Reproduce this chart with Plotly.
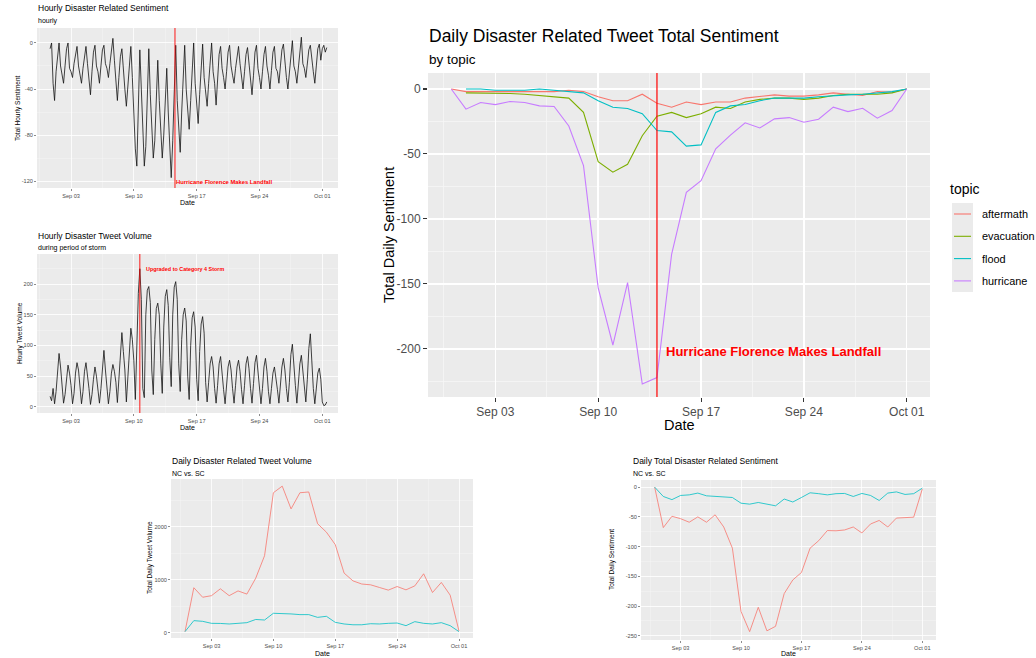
import pandas as pd
import plotly.graph_objects as go

W, H = 1036, 658
FONT = "Liberation Sans, Arial, sans-serif"

# ---------------- data ----------------
daily_dates = pd.date_range("2018-08-31", "2018-10-01", freq="D")

topic_aftermath = [0, -2, -2, -2, -2, -2, -1.5, -2, -1, -2, -6, -9, -9, -4, -11, -14,
                   -10, -12, -10, -10, -7, -6, -4.5, -5.5, -5.5, -4.5, -3, -4, -5, -2, -2.5, 0]
topic_evacuation = [None, -3, -3, -3, -3.5, -4, -5, -6.5, -7, -18, -56, -64, -58, -36, -21, -18,
                    -22, -19, -14, -15, -10, -8, -7, -7, -8, -7, -5, -4, -4, -4, -3, 0]
topic_flood = [None, 0, 0, -1, -1, -1, 0, -1, -2, -3, -9, -14, -15, -19, -32, -33,
               -44, -43, -18, -13, -12, -9, -7, -7, -7, -6, -5, -4.5, -4, -3, -2, 0]
topic_hurricane = [0, -15.5, -10.4, -12, -9.6, -10.4, -13, -13.5, -28.5, -59, -153, -197, -149, -227, -222, -127,
                   -79.5, -70.5, -46, -35.5, -26, -30, -23, -22, -25.6, -23.3, -14, -17.4, -14.8, -22.5, -16.6, 0]
topics = ["aftermath", "evacuation", "flood", "hurricane"]
topic_values = [topic_aftermath, topic_evacuation, topic_flood, topic_hurricane]
topic_colors = ["#F8766D", "#7CAE00", "#00BFC4", "#C77CFF"]

nc_volume = [20, 850, 670, 700, 830, 700, 790, 730, 1030, 1455, 2645, 2770, 2340, 2645, 2660, 2060,
             1900, 1665, 1127, 980, 920, 905, 855, 805, 873, 810, 885, 1114, 760, 950, 710, 30]
sc_volume = [20, 228, 215, 177, 175, 165, 177, 190, 250, 240, 367, 367, 355, 342, 342, 290,
             310, 196, 165, 150, 150, 170, 165, 177, 183, 133, 209, 177, 165, 190, 133, 20]
nc_sentiment = [0, -68, -49, -53, -59, -50, -59, -46.5, -67, -102.6, -209, -243, -202, -241.6, -234, -179,
                -156, -143.5, -102.6, -90, -73, -73.4, -72, -67, -77, -62, -56, -67, -52, -51, -50.5, -3]
sc_sentiment = [0, -15.7, -21, -14, -13, -10, -14.6, -15.7, -17.4, -17.4, -27, -28.6, -25.8, -28, -31.4, -20,
                -25, -17.4, -9.5, -11, -13, -11, -10.6, -15.7, -10.6, -14, -22.4, -10, -8, -12.3, -11, -1.7]
state_colors = ["#F8766D", "#00BFC4"]

# hourly series, one reading every 4 hours starting 2018-08-31 16:00
hourly_start = "2018-08-31 16:00"
hourly_volume = [
    17, 10,                         # Aug 31
    30, 5, 25, 60, 87, 65,          # Sep 1
    40, 6, 20, 50, 68, 55,
    35, 5, 22, 55, 72, 60,
    38, 5, 25, 58, 72, 55,
    30, 4, 20, 45, 65, 50,          # Sep 5
    28, 6, 30, 70, 92, 60,
    35, 5, 25, 55, 69, 58,
    40, 7, 45, 95, 121, 90,
    60, 8, 50, 100, 128, 110,
    75, 12, 120, 185, 225, 175,     # Sep 10
    30, 15, 150, 190, 196, 170,
    60, 20, 110, 160, 169, 150,
    70, 22, 130, 180, 191, 165,
    80, 33, 150, 195, 204, 175,
    70, 25, 110, 150, 161, 140,     # Sep 15
    50, 12, 100, 145, 155, 130,
    45, 10, 90, 135, 147, 120,
    40, 8, 40, 70, 82, 65,
    30, 6, 35, 70, 82, 60,
    28, 5, 30, 65, 76, 60,          # Sep 20
    30, 6, 35, 65, 76, 58,
    28, 5, 35, 70, 82, 62,
    30, 6, 38, 72, 84, 60,
    25, 5, 30, 65, 79, 58,
    25, 5, 30, 55, 65, 50,          # Sep 25
    28, 6, 35, 65, 79, 60,
    30, 8, 40, 85, 102, 75,
    35, 6, 35, 70, 84, 62,
    40, 8, 45, 95, 119, 70,
    30, 5, 30, 55, 63, 45,          # Sep 30
    8, 2, 3, 8,                     # Oct 1
]
hourly_sentiment = [
    -5, 0,                          # Aug 31
    -35, -50, -25, -10, 0, -20,     # Sep 1
    -30, -35, -20, -5, 0, -22,
    -25, -30, -18, -8, -3, -20,
    -28, -35, -22, -10, -3, -18,
    -30, -45, -25, -8, -2, -20,     # Sep 5
    -25, -35, -20, -6, -2, -18,
    -22, -30, -18, -5, 4, -15,
    -35, -50, -30, -12, -5, -25,
    -40, -55, -35, -15, -3, -30,
    -70, -92, -107, -60, -6, -40,   # Sep 10
    -80, -107, -90, -50, -5, -45,
    -75, -100, -85, -45, -15, -50,
    -80, -100, -80, -50, -22, -60,
    -90, -117, -85, -40, -2, -50,
    -70, -95, -60, -25, -2, -40,    # Sep 15
    -55, -75, -50, -20, 0, -35,
    -50, -70, -45, -18, -1, -30,
    -40, -55, -35, -12, 0, -25,
    -35, -54, -30, -10, -3, -22,
    -30, -40, -25, -8, -2, -20,     # Sep 20
    -28, -35, -22, -10, -3, -18,
    -30, -40, -25, -10, -4, -20,
    -32, -45, -28, -8, -2, -22,
    -30, -40, -25, -10, -3, -20,
    -28, -40, -24, -8, -3, -22,     # Sep 25
    -25, -35, -20, -6, -1, -18,
    -30, -40, -25, -6, 2, -20,
    -25, -35, -20, -4, 5, -18,
    -22, -30, -18, -6, -2, -16,
    -25, -35, -20, -5, -1, -15,     # Sep 30
    -5, -2, -8, -4,                 # Oct 1
]
hourly_vol_times = pd.date_range(hourly_start, periods=len(hourly_volume), freq="4h")
hourly_sent_times = pd.date_range(hourly_start, periods=len(hourly_sentiment), freq="4h")

landfall_day = "2018-09-14"
landfall_hour = "2018-09-14 14:00"
upgrade_hour = "2018-09-10 16:00"

# tick labels
sent_hourly_ticks = [0, -40, -80, -120]
vol_hourly_ticks = [0, 50, 100, 150, 200]
topic_ticks = [0, -50, -100, -150, -200]
daily_vol_ticks = [0, 1000, 2000]
daily_sent_ticks = [0, -50, -100, -150, -200, -250]

# ---------------- layout helpers ----------------
DAY = 86400000


def fx(p):
    return p / W


def fy(p):
    return 1 - p / H


def xcfg(x0, x1, rng, fs, tl, gw, anchor):
    return dict(domain=[fx(x0), fx(x1)], range=rng, type="date", tick0="2018-09-03", dtick=7 * DAY,
                tickformat="%b %d", ticks="outside", ticklen=tl, tickwidth=max(gw * 0.7, 0.5),
                tickcolor="#333333", tickfont=dict(size=fs, color="#4D4D4D", family=FONT),
                showgrid=True, gridcolor="white", gridwidth=gw,
                minor=dict(tick0="2018-08-30 12:00", dtick=3.5 * DAY, showgrid=True,
                           gridcolor="#F7F7F7", gridwidth=gw * 0.5, ticks=""),
                zeroline=False, showline=False, anchor=anchor, automargin=False, fixedrange=True)


def ycfg(y0, y1, rng, ticks, minor_dt, fs, tl, gw, anchor):
    return dict(domain=[fy(y1), fy(y0)], range=rng, tickmode="array", tickvals=ticks,
                ticktext=[str(t) for t in ticks], ticks="outside", ticklen=tl,
                tickwidth=max(gw * 0.7, 0.5), tickcolor="#333333",
                tickfont=dict(size=fs, color="#4D4D4D", family=FONT),
                showgrid=True, gridcolor="white", gridwidth=gw,
                minor=dict(tick0=0, dtick=minor_dt, showgrid=True, gridcolor="#F7F7F7",
                           gridwidth=gw * 0.5, ticks=""),
                zeroline=False, showline=False, anchor=anchor, automargin=False, fixedrange=True)


fig = go.Figure()

# 1: hourly sentiment
fig.add_trace(go.Scatter(x=hourly_sent_times, y=hourly_sentiment, mode="lines",
                         line=dict(color="#111111", width=0.8), xaxis="x", yaxis="y", showlegend=False))
# 2: hourly volume
fig.add_trace(go.Scatter(x=hourly_vol_times, y=hourly_volume, mode="lines",
                         line=dict(color="#111111", width=0.8), xaxis="x2", yaxis="y2", showlegend=False))
# 3: daily by topic
for name, vals, col in zip(topics, topic_values, topic_colors):
    fig.add_trace(go.Scatter(x=daily_dates, y=vals, mode="lines", name=name,
                             line=dict(color=col, width=1.1), xaxis="x3", yaxis="y3", showlegend=False))
# 4: NC vs SC volume
for vals, col in zip([nc_volume, sc_volume], state_colors):
    fig.add_trace(go.Scatter(x=daily_dates, y=vals, mode="lines", line=dict(color=col, width=0.8),
                             xaxis="x4", yaxis="y4", showlegend=False))
# 5: NC vs SC sentiment
for vals, col in zip([nc_sentiment, sc_sentiment], state_colors):
    fig.add_trace(go.Scatter(x=daily_dates, y=vals, mode="lines", line=dict(color=col, width=0.8),
                             xaxis="x5", yaxis="y5", showlegend=False))

hourly_range = ["2018-08-30 05:00", "2018-10-02 18:00"]
daily_range = ["2018-08-29 10:00", "2018-10-02 14:00"]

fig.update_layout(
    width=W, height=H,
    margin=dict(l=0, r=0, t=0, b=0, pad=0, autoexpand=False),
    paper_bgcolor="white", plot_bgcolor="#EBEBEB",
    font=dict(family=FONT, color="black"),
    showlegend=False,
    xaxis=xcfg(37, 338, hourly_range, 5.6, 2, 0.8, "y"),
    yaxis=ycfg(28, 188, [-126, 13], sent_hourly_ticks, 20, 5.6, 2, 0.8, "x"),
    xaxis2=xcfg(37, 338, hourly_range, 5.6, 2, 0.8, "y2"),
    yaxis2=ycfg(254, 413, [-10, 249], vol_hourly_ticks, 25, 5.6, 2, 0.8, "x2"),
    xaxis3=xcfg(428, 930, daily_range, 12, 4, 1.5, "y3"),
    yaxis3=ycfg(73, 397, [-237, 12.3], topic_ticks, 25, 12, 4, 1.5, "x3"),
    xaxis4=xcfg(171, 473, daily_range, 5.6, 2, 0.8, "y4"),
    yaxis4=ycfg(479, 638, [-100, 2905], daily_vol_ticks, 500, 5.6, 2, 0.8, "x4"),
    xaxis5=xcfg(641, 936, daily_range, 5.6, 2, 0.8, "y5"),
    yaxis5=ycfg(480, 640, [-257, 12], daily_sent_ticks, 25, 5.6, 2, 0.8, "x5"),
    hovermode=False,
)

# event lines + legend key drawing
shapes = [
    dict(type="line", xref="x", yref="y domain", x0=landfall_hour, x1=landfall_hour, y0=0, y1=1,
         line=dict(color="#FF0000", width=0.9)),
    dict(type="line", xref="x2", yref="y2 domain", x0=upgrade_hour, x1=upgrade_hour, y0=0, y1=1,
         line=dict(color="#FF0000", width=0.9)),
    dict(type="line", xref="x3", yref="y3 domain", x0=landfall_day, x1=landfall_day, y0=0, y1=1,
         line=dict(color="#FF0000", width=1.2)),
    dict(type="rect", xref="paper", yref="paper", x0=fx(952), x1=fx(973), y0=fy(292), y1=fy(203),
         fillcolor="#EBEBEB", line=dict(width=0), layer="below"),
]

ann = []


def text(x, y, s, size, color="black", xanchor="left", angle=0, xref="paper", yref="paper"):
    ann.append(dict(x=x, y=y, xref=xref, yref=yref, text=s, showarrow=False, xanchor=xanchor,
                    yanchor="middle", textangle=angle, borderpad=0,
                    font=dict(size=size, color=color, family=FONT)))


# legend (topic)
text(fx(949), fy(189), "topic", 14)
for i, (name, col) in enumerate(zip(topics, topic_colors)):
    yk = 214 + i * 22.3
    shapes.append(dict(type="line", xref="paper", yref="paper", x0=fx(954), x1=fx(971),
                       y0=fy(yk), y1=fy(yk), line=dict(color=col, width=1.1)))
    text(fx(981), fy(yk), name, 10.9)

fig.update_layout(shapes=shapes)

# titles / subtitles
text(fx(37), fy(8), "Hourly Disaster Related Sentiment", 8.5)
text(fx(37), fy(21), "hourly", 7)
text(fx(37), fy(236), "Hourly Disaster Tweet Volume", 8.5)
text(fx(37), fy(248), "during period of storm", 7)
text(fx(428), fy(36), "Daily Disaster Related Tweet Total Sentiment", 17.5)
text(fx(428), fy(60), "by topic", 13.5)
text(fx(171), fy(461), "Daily Disaster Related Tweet Volume", 8.5)
text(fx(171), fy(473), "NC vs. SC", 7)
text(fx(632), fy(461), "Daily Total Disaster Related Sentiment", 8.5)
text(fx(632), fy(473), "NC vs. SC", 7)

# axis titles
text(fx(187), fy(202), "Date", 7, xanchor="center")
text(fx(18), fy(108), "Total Hourly Sentiment", 6.5, xanchor="center", angle=-90)
text(fx(187), fy(427), "Date", 7, xanchor="center")
text(fx(20), fy(333), "Hourly Tweet Volume", 6.5, xanchor="center", angle=-90)
text(fx(679), fy(425), "Date", 14.5, xanchor="center")
text(fx(389), fy(235), "Total Daily Sentiment", 14.5, xanchor="center", angle=-90)
text(fx(322), fy(653), "Date", 7, xanchor="center")
text(fx(150), fy(558), "Total Daily Tweet Volume", 6.5, xanchor="center", angle=-90)
text(fx(788), fy(653), "Date", 7, xanchor="center")
text(fx(612), fy(560), "Total Daily Sentiment", 6.5, xanchor="center", angle=-90)

# event labels
text("2018-09-14 13:00", -202, "<b>Hurricane Florence Makes Landfall</b>", 13, color="#FF0000",
     xref="x3", yref="y3")
text(landfall_hour, -121, "<b>Hurricane Florence Makes Landfall</b>", 5.8, color="#FF0000",
     xref="x", yref="y")
text("2018-09-11 06:00", 224, "<b>Upgraded to Category 4 Storm</b>", 5.4, color="#FF0000",
     xref="x2", yref="y2")

fig.update_layout(annotations=ann)
# remove the browser's default 8px body margin so the figure sits at the page origin
fig.write_html("out.html", config={"displayModeBar": False, "staticPlot": True},
               post_script="document.body.style.margin='0px';")
